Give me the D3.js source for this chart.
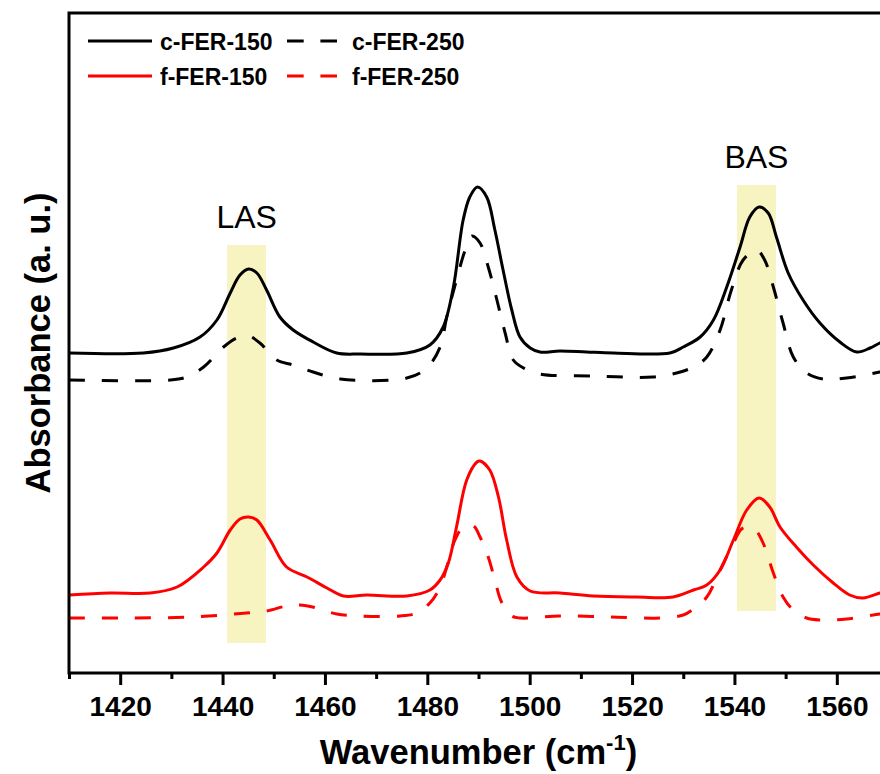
<!DOCTYPE html>
<html>
<head>
<meta charset="utf-8">
<script src="https://cdn.jsdelivr.net/npm/d3@7"></script>
<style>
  body { margin: 0; background: #fff; }
  svg { display: block; font-family: "Liberation Sans", Arial, sans-serif; }
</style>
</head>
<body>
<div id="wrapper"></div>
<script>
// spectra: [wavenumber, absorbance (a.u., offset)]
const cFER150 = [
  [1410, 32.0], [1424.5, 32.0], [1430.4, 32.5], [1435.6, 33.6], [1438.9, 35.3], [1441.5, 38.0],
  [1443.4, 39.8], [1445.1, 40.4], [1446.7, 40.0], [1448.6, 38.3], [1451.2, 35.6], [1453.8, 34.3],
  [1457.7, 33.1], [1462.3, 32.0], [1466.9, 31.9], [1476.0, 32.0], [1480.5, 32.8], [1483.1, 34.6],
  [1485.1, 38.6], [1487.0, 45.3], [1488.3, 47.6], [1489.8, 48.6], [1491.6, 47.6], [1493.2, 44.3],
  [1494.8, 40.3], [1496.5, 36.3], [1498.1, 33.6], [1500.1, 32.5], [1502.0, 32.1], [1505.9, 32.2],
  [1511.1, 32.1], [1516.3, 32.0], [1527.4, 32.0], [1530.0, 32.6], [1533.3, 33.6], [1535.9, 35.3],
  [1538.5, 38.6], [1541.1, 42.6], [1543.0, 45.6], [1544.8, 46.6], [1546.6, 46.0], [1548.2, 43.6],
  [1550.5, 40.0], [1553.4, 37.3], [1556.7, 35.0], [1560.6, 33.1], [1563.9, 32.1], [1566.5, 32.5],
  [1568.4, 33.0], [1570, 33.3]
];
const cFER250 = [
  [1410, 29.3], [1429.8, 29.3], [1433.0, 29.6], [1436.3, 30.6], [1440.2, 32.6], [1442.8, 33.5],
  [1445.1, 33.7], [1447.3, 33.0], [1450.6, 31.3], [1453.8, 30.8], [1457.7, 30.1], [1463.0, 29.4],
  [1476.0, 29.5], [1479.9, 30.5], [1482.5, 32.6], [1483.8, 35.6], [1485.7, 39.3], [1487.4, 42.3],
  [1488.7, 43.7], [1490.3, 43.0], [1491.9, 40.6], [1493.6, 37.3], [1495.2, 34.0], [1496.8, 31.3],
  [1498.8, 30.5], [1502.0, 29.9], [1512.4, 29.7], [1524.1, 29.6], [1528.7, 30.0], [1532.0, 30.6],
  [1534.6, 31.6], [1537.2, 34.3], [1539.4, 38.3], [1541.7, 41.3], [1544.3, 42.3], [1545.9, 41.3],
  [1547.6, 38.6], [1549.5, 35.0], [1551.5, 31.6], [1554.1, 30.0], [1557.3, 29.4], [1561.9, 29.5],
  [1568.4, 30.1], [1570, 30.3]
];
const fFER150 = [
  [1410, 7.8], [1418.0, 8.0], [1425.9, 8.0], [1431.1, 8.6], [1436.3, 10.6], [1438.9, 12.0],
  [1441.5, 14.3], [1443.4, 15.4], [1445.1, 15.6], [1446.7, 15.3], [1449.3, 13.3], [1452.5, 10.6],
  [1456.5, 9.6], [1460.4, 8.5], [1463.6, 7.7], [1468.2, 7.8], [1476.0, 7.7], [1480.5, 8.3],
  [1482.5, 9.3], [1484.1, 11.0], [1485.7, 14.6], [1487.7, 19.3], [1489.7, 21.1], [1490.3, 21.2],
  [1492.2, 20.3], [1493.9, 17.6], [1495.5, 13.3], [1497.5, 9.6], [1500.1, 8.2], [1505.9, 8.0],
  [1512.4, 7.7], [1520.9, 7.6], [1528.0, 7.6], [1532.0, 8.3], [1534.6, 8.8], [1537.2, 10.3],
  [1539.8, 13.3], [1542.4, 16.3], [1544.8, 17.5], [1546.9, 16.6], [1548.9, 14.6], [1552.1, 12.6],
  [1555.4, 10.8], [1559.3, 9.0], [1562.5, 7.8], [1565.1, 7.5], [1568.4, 8.0], [1570, 8.2]
];
const fFER250 = [
  [1410, 5.5], [1421.3, 5.5], [1434.3, 5.6], [1444.7, 6.0], [1448.6, 6.2], [1452.5, 6.7],
  [1455.1, 6.8], [1458.4, 6.5], [1462.3, 5.9], [1466.9, 5.7], [1474.7, 5.7], [1477.9, 6.0],
  [1480.5, 7.0], [1482.5, 8.6], [1483.8, 10.6], [1485.4, 13.3], [1487.0, 14.6], [1489.0, 14.7],
  [1490.3, 13.6], [1491.9, 11.6], [1493.2, 9.3], [1494.5, 7.1], [1496.5, 5.7], [1498.1, 5.5],
  [1505.9, 5.7], [1515.7, 5.6], [1525.4, 5.5], [1530.0, 5.8], [1532.0, 6.4], [1534.6, 7.6],
  [1537.2, 10.3], [1539.8, 13.0], [1541.4, 14.4], [1543.0, 14.6], [1544.0, 14.4], [1545.6, 13.0],
  [1547.6, 10.0], [1549.5, 7.6], [1551.5, 6.3], [1554.1, 5.5], [1556.7, 5.3], [1561.9, 5.4],
  [1568.4, 5.9], [1570, 6.0]
];

const seriesNames = ["c-FER-150", "c-FER-250", "f-FER-150", "f-FER-250"];
const seriesColors = ["#000000", "#000000", "#ff0000", "#ff0000"];
const seriesDashed = [false, true, false, true];
const seriesData = [cFER150, cFER250, fFER150, fFER250];

// highlighted bands: wavenumber range and vertical extent (a.u.)
const bandNames = ["LAS", "BAS"];
const bandRanges = [[1440.9, 1448.5], [1540.5, 1548.1]];
const bandSpans = [[3.0, 42.8], [6.2, 48.8]];

const majorTicks = [1420, 1440, 1460, 1480, 1500, 1520, 1540, 1560];
const minorTicks = [1410, 1430, 1450, 1470, 1490, 1510, 1530, 1550, 1570];

const width = 880;
const height = 774;
const margin = { top: 13, right: -8, bottom: 101, left: 69 };
const boundedWidth = width - margin.left - margin.right;
const boundedHeight = height - margin.top - margin.bottom;

const svg = d3.select("#wrapper")
  .append("svg")
  .attr("width", width)
  .attr("height", height);

const bounds = svg.append("g")
  .attr("transform", `translate(${margin.left},${margin.top})`);

const xScale = d3.scaleLinear()
  .domain([1410, 1570])
  .range([0, boundedWidth]);

const yScale = d3.scaleLinear()
  .domain([0, 66])
  .range([boundedHeight, 0]);

// yellow bands
bounds.selectAll(".band")
  .data(bandRanges)
  .enter().append("rect")
  .attr("class", "band")
  .attr("x", d => xScale(d[0]))
  .attr("width", d => xScale(d[1]) - xScale(d[0]))
  .attr("y", (d, i) => yScale(bandSpans[i][1]))
  .attr("height", (d, i) => yScale(bandSpans[i][0]) - yScale(bandSpans[i][1]))
  .attr("fill", "#f7f4c1");

bounds.selectAll(".band-label")
  .data(bandRanges)
  .enter().append("text")
  .attr("class", "band-label")
  .attr("x", d => xScale((d[0] + d[1]) / 2))
  .attr("y", (d, i) => yScale(bandSpans[i][1]) - 17)
  .attr("text-anchor", "middle")
  .attr("font-size", 32)
  .attr("fill", "#000")
  .text((d, i) => bandNames[i]);

// curves
const lineGenerator = d3.line()
  .x(d => xScale(d[0]))
  .y(d => yScale(d[1]))
  .curve(d3.curveCatmullRom.alpha(0.5));

bounds.selectAll(".spectrum")
  .data(seriesData)
  .enter().append("path")
  .attr("class", "spectrum")
  .attr("d", lineGenerator)
  .attr("fill", "none")
  .attr("stroke", (d, i) => seriesColors[i])
  .attr("stroke-width", 3)
  .attr("stroke-dasharray", (d, i) => seriesDashed[i] ? "16,17" : null);

// frame (right edge falls outside the picture)
bounds.append("rect")
  .attr("x", 0)
  .attr("y", 0)
  .attr("width", boundedWidth)
  .attr("height", boundedHeight)
  .attr("fill", "none")
  .attr("stroke", "#000")
  .attr("stroke-width", 3);

// x axis
const xAxis = bounds.append("g")
  .attr("transform", `translate(0,${boundedHeight})`)
  .call(d3.axisBottom(xScale)
    .tickValues(majorTicks)
    .tickSize(12)
    .tickPadding(11)
    .tickFormat(d3.format("d")));
xAxis.select(".domain").remove();
xAxis.selectAll(".tick line").attr("stroke-width", 3);
xAxis.selectAll(".tick text")
  .attr("font-family", "Liberation Sans, Arial, sans-serif")
  .attr("font-size", 28)
  .attr("font-weight", "bold")
  .attr("fill", "#000");

const xMinor = bounds.append("g")
  .attr("transform", `translate(0,${boundedHeight})`)
  .call(d3.axisBottom(xScale)
    .tickValues(minorTicks)
    .tickSize(6)
    .tickFormat(""));
xMinor.select(".domain").remove();
xMinor.selectAll(".tick line").attr("stroke-width", 3);

// axis labels
const xLabel = svg.append("text")
  .attr("x", margin.left + xScale(1490))
  .attr("y", 764)
  .attr("text-anchor", "middle")
  .attr("font-size", 34.5)
  .attr("font-weight", "bold")
  .attr("fill", "#000");
xLabel.append("tspan").text("Wavenumber (cm");
xLabel.append("tspan").attr("font-size", 22).attr("dy", -14).text("-1");
xLabel.append("tspan").attr("dy", 14).text(")");

svg.append("text")
  .attr("transform", `translate(50,343) rotate(-90)`)
  .attr("text-anchor", "middle")
  .attr("font-size", 34.5)
  .attr("font-weight", "bold")
  .attr("fill", "#000")
  .text("Absorbance (a. u.)");

// legend
const legendX = [88, 287];
const legendY = [41, 76];
const legendItems = svg.append("g").selectAll(".legend-item")
  .data(seriesNames)
  .enter().append("g")
  .attr("class", "legend-item")
  .attr("transform", (d, i) => `translate(${legendX[i % 2]},${legendY[Math.floor(i / 2)]})`);

legendItems.append("line")
  .attr("x1", 0)
  .attr("x2", (d, i) => seriesDashed[i] ? 50 : 64)
  .attr("y1", 0)
  .attr("y2", 0)
  .attr("stroke", (d, i) => seriesColors[i])
  .attr("stroke-width", 3)
  .attr("stroke-dasharray", (d, i) => seriesDashed[i] ? "16.7,16.7" : null);

legendItems.append("text")
  .attr("x", (d, i) => seriesDashed[i] ? 65 : 72)
  .attr("y", 8.5)
  .attr("font-size", 23)
  .attr("font-weight", "bold")
  .attr("fill", "#000")
  .text(d => d);
</script>
</body>
</html>
